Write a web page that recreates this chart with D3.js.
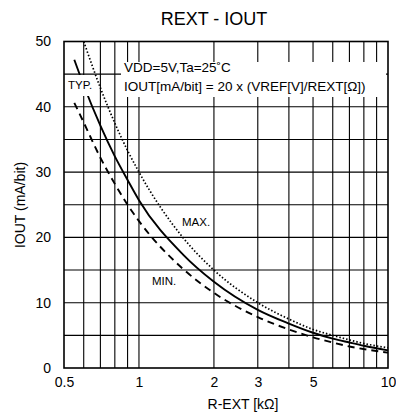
<!DOCTYPE html>
<html>
<head>
<meta charset="utf-8">
<script src="https://cdn.jsdelivr.net/npm/d3@7"></script>
<style>
  html, body { margin: 0; padding: 0; background: #fff; }
  svg { display: block; font-family: "Liberation Sans", Arial, sans-serif; }
</style>
</head>
<body>
<svg id="chart" width="396" height="414"></svg>
<script>
// R-EXT [kΩ] sample points
const rext = [0.55, 0.6, 0.7, 0.8, 0.9, 1, 1.5, 2, 3, 4, 5, 6, 7, 8, 10]
const iTyp = [47.2, 43.3, 37.1, 32.4, 28.8, 25.7, 17.4, 13.2, 8.9, 6.8, 5.4, 4.5, 3.9, 3.4, 2.7]
const iMin = [40.6, 37.6, 32.2, 28.2, 25.0, 22.5, 15.2, 11.5, 7.8, 5.9, 4.7, 3.9, 3.3, 2.9, 2.35]
const iMax = [null, 50, 42.9, 37.5, 33.3, 30, 20, 15, 10, 7.5, 5.9, 5.0, 4.3, 3.75, 3.1]

const xTickLabels = [0.5, 1, 2, 3, 5, 10]
const xGrid = [0.6, 0.7, 0.8, 0.9, 1, 2, 3, 4, 5, 6, 7, 8, 9]
const yTickLabels = [0, 10, 20, 30, 40, 50]
const yGrid = [5, 10, 15, 20, 25, 30, 35, 40, 45]

const title = 'REXT - IOUT'
const xTitle = 'R-EXT [kΩ]'
const yTitle = 'IOUT (mA/bit)'
const noteLines = ['VDD=5V,Ta=25˚C', 'IOUT[mA/bit] = 20 x (VREF[V]/REXT[Ω])']

const svg = d3.select('#chart')
const plot = { left: 64, right: 388, top: 41.5, bottom: 368 }

const x = d3.scaleLog().domain([0.5, 10]).range([plot.left, plot.right])
const y = d3.scaleLinear().domain([0, 50]).range([plot.bottom, plot.top])

// grid
svg.append('g').selectAll('line').data(xGrid).join('line')
  .attr('x1', d => x(d)).attr('x2', d => x(d))
  .attr('y1', plot.top).attr('y2', plot.bottom)
  .attr('stroke', '#000').attr('stroke-width', 1.1)

svg.append('g').selectAll('line').data(yGrid).join('line')
  .attr('x1', plot.left).attr('x2', plot.right)
  .attr('y1', d => y(d)).attr('y2', d => y(d))
  .attr('stroke', '#000').attr('stroke-width', 1.1)

// curves
const line = d3.line()
  .defined(d => d[1] != null)
  .x(d => x(d[0]))
  .y(d => y(d[1]))
  .curve(d3.curveMonotoneX)

const curves = [
  { vals: iMax, dash: '1.5,2', width: 1.7 },
  { vals: iTyp, dash: null, width: 1.9 },
  { vals: iMin, dash: '7,5', width: 1.9 }
]

curves.forEach(c => {
  svg.append('path')
    .datum(rext.map((r, i) => [r, c.vals[i]]))
    .attr('fill', 'none')
    .attr('stroke', '#000')
    .attr('stroke-width', c.width)
    .attr('stroke-dasharray', c.dash)
    .attr('d', line)
})

// white boxes behind labels
svg.append('rect').attr('x', 121).attr('y', 62).attr('width', 265).attr('height', 35).attr('fill', '#fff')
svg.append('rect').attr('x', 67).attr('y', 75).attr('width', 23).attr('height', 21).attr('fill', '#fff')

// border
svg.append('rect')
  .attr('x', plot.left).attr('y', plot.top)
  .attr('width', plot.right - plot.left).attr('height', plot.bottom - plot.top)
  .attr('fill', 'none').attr('stroke', '#000').attr('stroke-width', 1.6)

// note text
svg.append('g').selectAll('text').data(noteLines).join('text')
  .attr('x', 124)
  .attr('y', (d, i) => 72 + i * 19)
  .attr('font-size', 13.5)
  .text(d => d)

// curve labels
svg.append('text').attr('x', 68).attr('y', 89).attr('font-size', 11.5).text('TYP.')
svg.append('text').attr('x', 182).attr('y', 226).attr('font-size', 11.5).text('MAX.')
svg.append('text').attr('x', 152).attr('y', 285).attr('font-size', 11.5).text('MIN.')

// axes labels
const xAxis = svg.append('g')
  .attr('transform', `translate(0,${plot.bottom})`)
  .call(d3.axisBottom(x).tickValues(xTickLabels).tickFormat(d => String(d)).tickSize(0).tickPadding(9))
xAxis.select('.domain').remove()
xAxis.selectAll('text').attr('font-size', 14).attr('fill', '#000')
  .attr('font-family', '"Liberation Sans", Arial, sans-serif')

const yAxis = svg.append('g')
  .attr('transform', `translate(${plot.left},0)`)
  .call(d3.axisLeft(y).tickValues(yTickLabels).tickSize(0).tickPadding(13))
yAxis.select('.domain').remove()
yAxis.selectAll('text').attr('font-size', 14).attr('fill', '#000')
  .attr('font-family', '"Liberation Sans", Arial, sans-serif')

// titles
svg.append('text').attr('x', 214).attr('y', 25).attr('text-anchor', 'middle')
  .attr('font-size', 18).text(title)

svg.append('text').attr('x', 243).attr('y', 409).attr('text-anchor', 'middle')
  .attr('font-size', 14).text(xTitle)

svg.append('text')
  .attr('transform', 'translate(25,205) rotate(-90)')
  .attr('text-anchor', 'middle')
  .attr('font-size', 14).text(yTitle)
</script>
</body>
</html>
